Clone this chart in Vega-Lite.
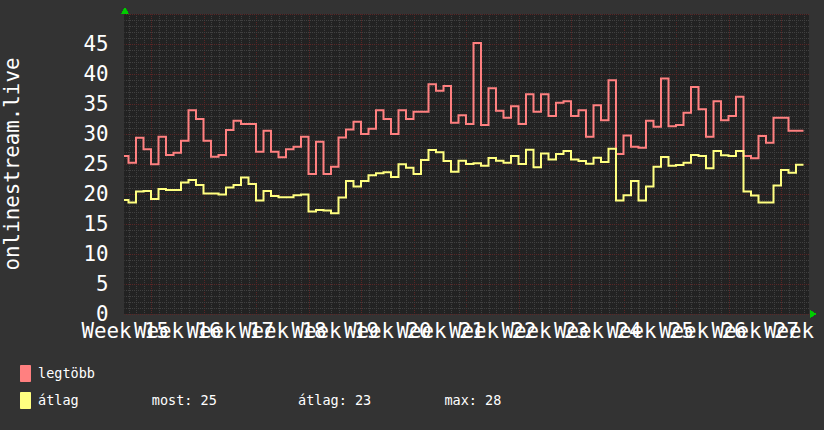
{
  "$schema": "https://vega.github.io/schema/vega-lite/v6.json",
  "width": 685,
  "height": 300,
  "autosize": {"type": "none"},
  "padding": {"left": 124, "top": 14, "right": 15, "bottom": 116},
  "background": "#333333",
  "config": {"view": {"fill": "#222222", "stroke": null}, "font": "DejaVu Sans Mono"},
  "data": {"values": [
    {"day": -1, "legtöbb": 26.33, "átlag": 19.01},
    {"day": 0, "legtöbb": 25.22, "átlag": 18.57},
    {"day": 1, "legtöbb": 29.37, "átlag": 20.4},
    {"day": 2, "legtöbb": 27.44, "átlag": 20.51},
    {"day": 3, "legtöbb": 24.94, "átlag": 19.18},
    {"day": 4, "legtöbb": 29.54, "átlag": 20.84},
    {"day": 5, "legtöbb": 26.5, "átlag": 20.68},
    {"day": 6, "legtöbb": 26.88, "átlag": 20.68},
    {"day": 7, "legtöbb": 28.88, "átlag": 21.9},
    {"day": 8, "legtöbb": 33.97, "átlag": 22.34},
    {"day": 9, "legtöbb": 32.48, "átlag": 21.51},
    {"day": 10, "legtöbb": 28.88, "átlag": 20.07},
    {"day": 11, "legtöbb": 26.22, "átlag": 20.07},
    {"day": 12, "legtöbb": 26.5, "átlag": 19.9},
    {"day": 13, "legtöbb": 30.65, "átlag": 21.07},
    {"day": 14, "legtöbb": 32.2, "átlag": 21.51},
    {"day": 15, "legtöbb": 31.65, "átlag": 22.73},
    {"day": 16, "legtöbb": 31.65, "átlag": 21.68},
    {"day": 17, "legtöbb": 27.05, "átlag": 18.9},
    {"day": 18, "legtöbb": 30.54, "átlag": 20.51},
    {"day": 19, "legtöbb": 27.05, "átlag": 19.68},
    {"day": 20, "legtöbb": 26.11, "átlag": 19.46},
    {"day": 21, "legtöbb": 27.44, "átlag": 19.46},
    {"day": 22, "legtöbb": 27.88, "átlag": 19.79},
    {"day": 23, "legtöbb": 29.54, "átlag": 19.9},
    {"day": 24, "legtöbb": 23.34, "átlag": 17.08},
    {"day": 25, "legtöbb": 28.71, "átlag": 17.35},
    {"day": 26, "legtöbb": 23.34, "átlag": 17.24},
    {"day": 27, "legtöbb": 24.56, "átlag": 16.8},
    {"day": 28, "legtöbb": 29.43, "átlag": 19.4},
    {"day": 29, "legtöbb": 30.76, "átlag": 22.17},
    {"day": 30, "legtöbb": 32.03, "átlag": 21.23},
    {"day": 31, "legtöbb": 29.98, "átlag": 22.17},
    {"day": 32, "legtöbb": 30.87, "átlag": 23.12},
    {"day": 33, "legtöbb": 33.97, "átlag": 23.45},
    {"day": 34, "legtöbb": 32.48, "átlag": 23.61},
    {"day": 35, "legtöbb": 29.98, "átlag": 22.84},
    {"day": 36, "legtöbb": 33.97, "átlag": 24.94},
    {"day": 37, "legtöbb": 32.48, "átlag": 24.39},
    {"day": 38, "legtöbb": 33.7, "átlag": 23.34},
    {"day": 39, "legtöbb": 33.7, "átlag": 25.66},
    {"day": 40, "legtöbb": 38.3, "átlag": 27.33},
    {"day": 41, "legtöbb": 37.19, "átlag": 26.94},
    {"day": 42, "legtöbb": 38.02, "átlag": 25.5},
    {"day": 43, "legtöbb": 31.87, "átlag": 23.72},
    {"day": 44, "legtöbb": 33.14, "átlag": 25.55},
    {"day": 45, "legtöbb": 31.65, "átlag": 25.0},
    {"day": 46, "legtöbb": 45.16, "átlag": 25.11},
    {"day": 47, "legtöbb": 31.48, "átlag": 24.72},
    {"day": 48, "legtöbb": 37.63, "átlag": 26.0},
    {"day": 49, "legtöbb": 33.86, "átlag": 25.55},
    {"day": 50, "legtöbb": 32.7, "átlag": 25.22},
    {"day": 51, "legtöbb": 34.64, "átlag": 26.33},
    {"day": 52, "legtöbb": 31.65, "átlag": 25.0},
    {"day": 53, "legtöbb": 36.63, "átlag": 27.38},
    {"day": 54, "legtöbb": 33.7, "átlag": 24.44},
    {"day": 55, "legtöbb": 36.63, "átlag": 26.77},
    {"day": 56, "legtöbb": 32.98, "átlag": 25.77},
    {"day": 57, "legtöbb": 35.19, "átlag": 26.66},
    {"day": 58, "legtöbb": 35.47, "átlag": 27.16},
    {"day": 59, "legtöbb": 32.98, "átlag": 25.77},
    {"day": 60, "legtöbb": 33.97, "átlag": 25.5},
    {"day": 61, "legtöbb": 29.54, "átlag": 25.05},
    {"day": 62, "legtöbb": 34.8, "átlag": 26.05},
    {"day": 63, "legtöbb": 32.31, "átlag": 25.33},
    {"day": 64, "legtöbb": 38.96, "átlag": 27.55},
    {"day": 65, "legtöbb": 26.66, "átlag": 18.9},
    {"day": 66, "legtöbb": 29.76, "átlag": 19.79},
    {"day": 67, "legtöbb": 27.88, "átlag": 22.17},
    {"day": 68, "legtöbb": 27.71, "átlag": 18.9},
    {"day": 69, "legtöbb": 32.2, "átlag": 21.23},
    {"day": 70, "legtöbb": 31.2, "átlag": 24.56},
    {"day": 71, "legtöbb": 39.24, "átlag": 26.16},
    {"day": 72, "legtöbb": 31.31, "átlag": 24.72},
    {"day": 73, "legtöbb": 31.48, "átlag": 24.83},
    {"day": 74, "legtöbb": 33.53, "átlag": 25.22},
    {"day": 75, "legtöbb": 37.85, "átlag": 26.5},
    {"day": 76, "legtöbb": 34.14, "átlag": 26.33},
    {"day": 77, "legtöbb": 29.54, "átlag": 24.28},
    {"day": 78, "legtöbb": 35.47, "átlag": 27.16},
    {"day": 79, "legtöbb": 32.31, "átlag": 26.44},
    {"day": 80, "legtöbb": 32.98, "átlag": 26.33},
    {"day": 81, "legtöbb": 36.19, "átlag": 27.16},
    {"day": 82, "legtöbb": 26.33, "átlag": 20.4},
    {"day": 83, "legtöbb": 25.94, "átlag": 19.74},
    {"day": 84, "legtöbb": 29.65, "átlag": 18.57},
    {"day": 85, "legtöbb": 28.54, "átlag": 18.57},
    {"day": 86, "legtöbb": 32.7, "átlag": 21.4},
    {"day": 87, "legtöbb": 32.7, "átlag": 24.0},
    {"day": 88, "legtöbb": 30.54, "átlag": 23.56},
    {"day": 89, "legtöbb": 30.54, "átlag": 24.89},
    {"day": 90, "legtöbb": 30.54, "átlag": 24.89}
  ]},
  "layer": [
    {
      "transform": [{"fold": ["legtöbb", "átlag"], "as": ["series", "value"]}],
      "mark": {"type": "line", "interpolate": "step-after", "strokeWidth": 2, "clip": true, "strokeJoin": "miter"},
      "encoding": {
        "x": {
          "field": "day", "type": "quantitative",
          "scale": {"domain": [-0.6, 90.7333], "nice": false, "zero": false},
          "axis": {
            "values": [-0.5, 0, 1, 2, 3, 4, 5, 6, 6.5, 7, 8, 9, 10, 11, 12, 13, 13.5, 14, 15, 16, 17, 18, 19, 20, 20.5, 21, 22, 23, 24, 25, 26, 27, 27.5, 28, 29, 30, 31, 32, 33, 34, 34.5, 35, 36, 37, 38, 39, 40, 41, 41.5, 42, 43, 44, 45, 46, 47, 48, 48.5, 49, 50, 51, 52, 53, 54, 55, 55.5, 56, 57, 58, 59, 60, 61, 62, 62.5, 63, 64, 65, 66, 67, 68, 69, 69.5, 70, 71, 72, 73, 74, 75, 76, 76.5, 77, 78, 79, 80, 81, 82, 83, 83.5, 84, 85, 86, 87, 88, 89, 90, 90.5],
            "tickCount": 1000,
            "labelExpr": "datum.value % 1 != 0 ? 'Week ' + (15 + (datum.value + 0.5) / 7) : ''",
            "gridColor": {"condition": {"test": "(datum.value - 3) % 7 === 0", "value": "#5a2626"}, "value": "#404040"},
            "gridOpacity": {"condition": {"test": "datum.value % 1 !== 0", "value": 0}, "value": 1},
            "gridDash": [1, 1],
            "gridDashOffset": 0.5,
            "grid": true,
            "ticks": false,
            "domain": false,
            "labelFlush": false,
            "labelOverlap": false,
            "labelBound": false,
            "labelColor": "#ffffff",
            "labelFont": "DejaVu Sans Mono",
            "labelFontSize": 20.8,
            "labelPadding": 7,
            "title": null
          }
        },
        "y": {
          "field": "value", "type": "quantitative",
          "scale": {"domain": [0, 50], "nice": false},
          "axis": {
            "values": [0, 1, 2, 3, 4, 5, 6, 7, 8, 9, 10, 11, 12, 13, 14, 15, 16, 17, 18, 19, 20, 21, 22, 23, 24, 25, 26, 27, 28, 29, 30, 31, 32, 33, 34, 35, 36, 37, 38, 39, 40, 41, 42, 43, 44, 45, 46, 47, 48, 49, 50],
            "tickCount": 1000,
            "format": "d",
            "labelExpr": "datum.value % 5 === 0 && datum.value < 50 ? datum.label : ''",
            "gridColor": {"condition": {"test": "datum.value % 5 === 0", "value": "#5a2626"}, "value": "#404040"},
            "gridDash": [1, 1],
            "gridDashOffset": 0.5,
            "grid": true,
            "ticks": false,
            "domain": false,
            "labelFlush": false,
            "labelOverlap": false,
            "labelColor": "#ffffff",
            "labelFont": "DejaVu Sans Mono",
            "labelFontSize": 20.8,
            "labelPadding": 16,
            "title": "onlinestream.live",
            "titleColor": "#ffffff",
            "titleFont": "DejaVu Sans Mono",
            "titleFontSize": 20.8,
            "titleFontWeight": "normal",
            "titleAngle": 270,
            "titleX": -105.7,
            "titleY": 149.5,
            "titleAlign": "center",
            "titleBaseline": "alphabetic"
          }
        },
        "color": {
          "field": "series", "type": "nominal",
          "scale": {"domain": ["legtöbb", "átlag"], "range": ["#FF8080", "#FFFF80"]},
          "legend": {
            "orient": "none",
            "legendX": -107,
            "legendY": 351,
            "title": null,
            "direction": "vertical",
            "padding": 0,
            "symbolType": "M-0.625,-1H0.625V1H-0.625Z",
            "symbolSize": 256,
            "symbolStrokeColor": "#000000",
            "symbolStrokeWidth": 1,
            "labelColor": "#ffffff",
            "labelFont": "DejaVu Sans Mono",
            "labelFontSize": 13.5,
            "labelOffset": 4,
            "labelLimit": 1000,
            "rowPadding": 6,
            "labelExpr": "datum.label == 'átlag' ? 'átlag\u00a0\u00a0\u00a0\u00a0\u00a0\u00a0\u00a0\u00a0\u00a0most: 25\u00a0\u00a0\u00a0\u00a0\u00a0\u00a0\u00a0\u00a0\u00a0\u00a0átlag: 23\u00a0\u00a0\u00a0\u00a0\u00a0\u00a0\u00a0\u00a0\u00a0max: 28' : datum.label",
            "encode": {
              "symbols": {
                "update": {
                  "fill": {"scale": "color", "field": "value"},
                  "stroke": {"value": "#000000"},
                  "strokeWidth": {"value": 1},
                  "opacity": {"value": 1}
                }
              }
            }
          }
        }
      }
    },
    {
      "mark": {"type": "point", "shape": "triangle-up", "filled": true, "color": "#00CC00", "size": 40, "opacity": 1, "clip": false},
      "encoding": {"x": {"datum": -0.47}, "y": {"datum": 50.53}}
    },
    {
      "mark": {"type": "point", "shape": "triangle-right", "filled": true, "color": "#00CC00", "size": 40, "opacity": 1, "clip": false},
      "encoding": {"x": {"datum": 91.27}, "y": {"datum": 0}}
    }
  ]
}
